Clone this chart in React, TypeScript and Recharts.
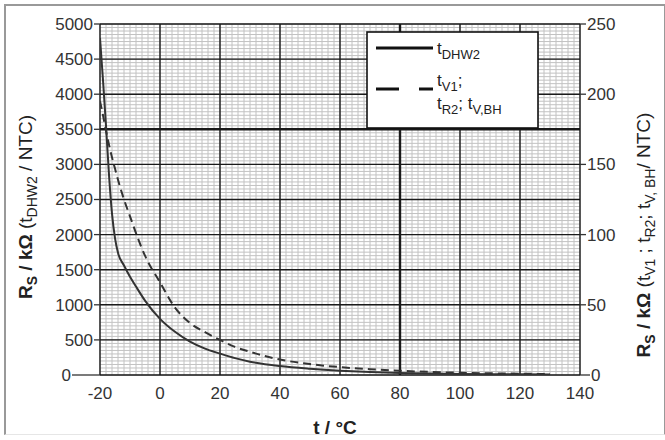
import React from 'react';
import { ComposedChart, Line, XAxis, YAxis, ReferenceLine } from 'recharts';

// ---- data ----
const tempC = [-20, -19, -18, -17, -16, -15, -14, -12, -10, -8, -5, 0, 5, 10, 15, 20, 25, 30, 40, 50, 60, 70, 80, 90, 100, 110, 120, 130];
const rsDHW2 = [4800, 4200, 3550, 2850, 2300, 1950, 1740, 1560, 1400, 1260, 1060, 800, 615, 475, 375, 305, 240, 190, 128, 90, 62, 42, 30, 22, 16, 12, 9, 7];
const rsV1 = [195, 185, 174, 164, 155, 147, 139, 125, 113, 101, 85, 66, 48, 37, 30.5, 25, 20, 16.5, 11, 7.8, 5.6, 4.1, 3, 2.2, 1.6, 1.2, 0.9, 0.7];

const xTicks = [-20, 0, 20, 40, 60, 80, 100, 120, 140];
const leftTicks = [0, 500, 1000, 1500, 2000, 2500, 3000, 3500, 4000, 4500, 5000];
const rightTicks = [0, 50, 100, 150, 200, 250];

const data = tempC.map((t, i) => ({ t, dhw2: rsDHW2[i], v1: rsV1[i] }));

// grid positions
const xMinor: number[] = [];
for (let v = -20; v <= 140; v += 2) xMinor.push(v);
const yMinor: number[] = [];
for (let v = 0; v <= 5000; v += 50) yMinor.push(v);

const FONT = '"Liberation Sans", Arial, sans-serif';
const PLOT_LEFT = 100;
const PLOT_RIGHT = 580;
const W = 665;
const H = 440;

const LeftTick = (props: any) => {
  const { y, payload } = props;
  const isZero = payload.value === 0;
  const end = isZero ? 72 : 94;
  return (
    <g>
      <line x1={end} x2={PLOT_LEFT} y1={y} y2={y} stroke="#333" strokeWidth={1.3} />
      <text x={end - 1} y={y} dy="0.35em" textAnchor="end" fontSize={17} fill="#333" fontFamily={FONT}>
        {payload.value}
      </text>
    </g>
  );
};

const RightTick = (props: any) => {
  const { y, payload } = props;
  const isZero = payload.value === 0;
  const start = isZero ? 590 : 586;
  return (
    <g>
      <line x1={PLOT_RIGHT} x2={start} y1={y} y2={y} stroke="#333" strokeWidth={1.3} />
      <text x={start + 1} y={y} dy="0.35em" textAnchor="start" fontSize={17} fill="#333" fontFamily={FONT}>
        {payload.value}
      </text>
    </g>
  );
};

const XTick = (props: any) => {
  const { x, payload } = props;
  return (
    <text x={x} y={393} dy="0.35em" textAnchor="middle" fontSize={17} fill="#333" fontFamily={FONT}>
      {payload.value}
    </text>
  );
};

const LeftLabel = () => {
  const cx = 32;
  const cy = 207;
  return (
    <text x={cx} y={cy} transform={`rotate(-90 ${cx} ${cy})`} textAnchor="middle" fontSize={19} fill="#222" fontFamily={FONT}>
      <tspan fontWeight="bold">R</tspan>
      <tspan fontWeight="bold" fontSize={14} dy={5}>S</tspan>
      <tspan fontWeight="bold" dy={-5}> / kΩ </tspan>
      <tspan>(t</tspan>
      <tspan fontSize={14} dy={5}>DHW2</tspan>
      <tspan dy={-5}> / NTC)</tspan>
    </text>
  );
};

const RightLabel = () => {
  const cx = 650;
  const cy = 235;
  return (
    <text x={cx} y={cy} transform={`rotate(-90 ${cx} ${cy})`} textAnchor="middle" fontSize={19} fill="#222" fontFamily={FONT}>
      <tspan fontWeight="bold">R</tspan>
      <tspan fontWeight="bold" fontSize={14} dy={5}>S</tspan>
      <tspan fontWeight="bold" dy={-5}> / kΩ </tspan>
      <tspan>(t</tspan>
      <tspan fontSize={14} dy={5}>V1</tspan>
      <tspan dy={-5}> ; t</tspan>
      <tspan fontSize={14} dy={5}>R2</tspan>
      <tspan dy={-5}>; t</tspan>
      <tspan fontSize={14} dy={5}>V, BH</tspan>
      <tspan dy={-5}>/ NTC)</tspan>
    </text>
  );
};

const XLabel = () => (
  <text x={335} y={434} textAnchor="middle" fontSize={19} fontWeight="bold" fill="#222" fontFamily={FONT}>
    t / °C
  </text>
);

const LegendBox = () => (
  <svg width={173} height={98} style={{ position: 'absolute', left: 366, top: 31 }}>
    <rect x={1} y={1} width={171} height={96} fill="#fff" stroke="#111" strokeWidth={1.6} />
    <line x1={10} x2={67} y1={17} y2={17} stroke="#111" strokeWidth={3} />
    <text x={71} y={23} fontSize={17} fill="#222" fontFamily={FONT}>
      t<tspan fontSize={13} dy={5}>DHW2</tspan>
    </text>
    <line x1={10} x2={67} y1={58} y2={58} stroke="#111" strokeWidth={3} strokeDasharray="23 20" />
    <text x={71} y={55} fontSize={17} fill="#222" fontFamily={FONT}>
      t<tspan fontSize={13} dy={5}>V1</tspan><tspan dy={-5}>;</tspan>
    </text>
    <text x={71} y={78} fontSize={17} fill="#222" fontFamily={FONT}>
      t<tspan fontSize={13} dy={5}>R2</tspan><tspan dy={-5}>; t</tspan><tspan fontSize={13} dy={5}>V,BH</tspan>
    </text>
  </svg>
);

export default function App() {
  return (
    <div style={{ position: 'absolute', left: 0, top: 0, width: W, height: H, background: '#fff', fontFamily: FONT }}>
      <div
        style={{
          position: 'absolute',
          left: 4,
          top: 4,
          width: 658,
          height: 428,
          borderLeft: '2px solid #999',
          borderTop: '2px solid #999',
          borderRight: '2px solid #999',
          borderBottom: '1px solid #e6e6e6',
        }}
      />
      <div style={{ position: 'absolute', left: 0, top: 0 }}>
        <ComposedChart width={W} height={H} data={data} margin={{ top: 24, right: 25, bottom: 35, left: 5 }}>
          <XAxis
            dataKey="t"
            type="number"
            domain={[-20, 140]}
            ticks={xTicks}
            tick={<XTick />}
            tickLine={false}
            axisLine={false}
            height={30}
            allowDataOverflow
            label={<XLabel />}
          />
          <YAxis
            yAxisId="left"
            orientation="left"
            domain={[0, 5000]}
            ticks={leftTicks}
            width={95}
            tick={<LeftTick />}
            tickLine={false}
            axisLine={false}
            allowDataOverflow
            label={<LeftLabel />}
          />
          <YAxis
            yAxisId="right"
            orientation="right"
            domain={[0, 250]}
            ticks={rightTicks}
            width={60}
            tick={<RightTick />}
            tickLine={false}
            axisLine={false}
            allowDataOverflow
            label={<RightLabel />}
          />
          {xMinor.map((v) => (
            <ReferenceLine key={'xm' + v} x={v} yAxisId="left" stroke="#c2c2c2" strokeWidth={1} />
          ))}
          {yMinor.map((v) => (
            <ReferenceLine key={'ym' + v} y={v} yAxisId="left" stroke="#c2c2c2" strokeWidth={1} />
          ))}
          {xTicks.map((v) => (
            <ReferenceLine key={'xM' + v} x={v} yAxisId="left" stroke="#1a1a1a" strokeWidth={v === 80 ? 2.4 : 1.4} />
          ))}
          {leftTicks.map((v) => (
            <ReferenceLine key={'yM' + v} y={v} yAxisId="left" stroke="#1a1a1a" strokeWidth={v === 3500 ? 2.4 : 1.4} />
          ))}
          <Line
            yAxisId="left"
            dataKey="dhw2"
            type="monotone"
            stroke="#333"
            strokeWidth={2}
            dot={false}
            isAnimationActive={false}
          />
          <Line
            yAxisId="right"
            dataKey="v1"
            type="monotone"
            stroke="#333"
            strokeWidth={2}
            strokeDasharray="8 5"
            dot={false}
            isAnimationActive={false}
          />
        </ComposedChart>
      </div>
      <LegendBox />
    </div>
  );
}
